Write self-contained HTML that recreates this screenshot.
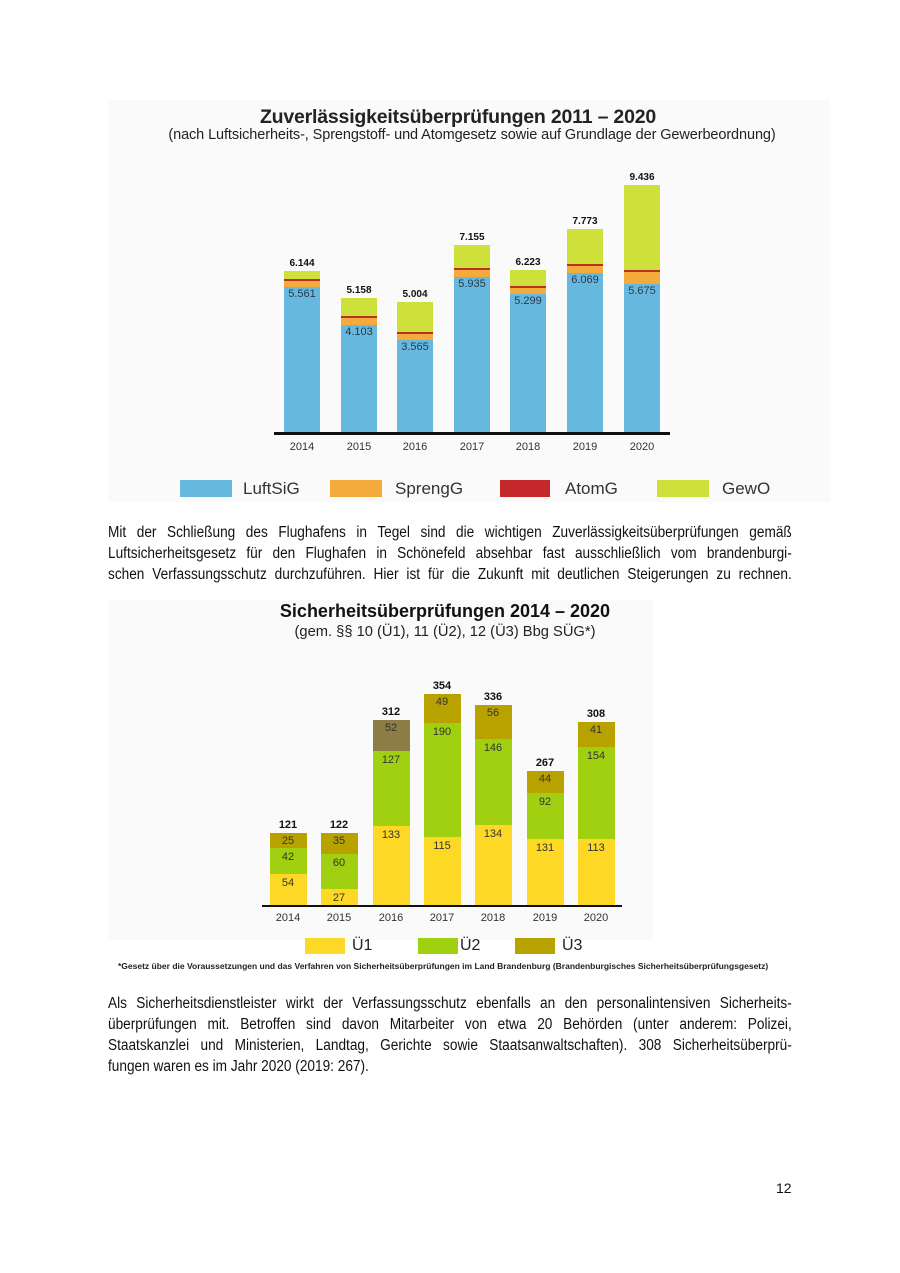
<!DOCTYPE html>
<html><head><meta charset="utf-8"><style>
body{margin:0;background:#fff;font-family:"Liberation Sans",sans-serif;}
.p{position:relative;width:900px;height:1273px;overflow:hidden}
.a{position:absolute}
.b{position:absolute}
.t{position:absolute;text-align:center;font-size:10px;font-weight:bold;color:#111;width:60px}
.v{position:absolute;text-align:center;font-size:11px;color:#2a3a4a;width:40px}
.w{position:absolute;text-align:center;font-size:11px;color:#333;width:40px}
.x{position:absolute;text-align:center;font-size:11px;color:#333;width:50px}
.ln{position:absolute;left:108px;width:777px;font-size:15.5px;line-height:21px;white-space:nowrap;text-align:justify;text-align-last:justify;color:#111;transform:scaleX(0.88);transform-origin:0 0}
.ln.l{text-align-last:left}
</style></head><body><div class="p">
<div class="a" style="left:108px;top:100px;width:722px;height:402px;background:#fafafa"></div>
<div class="a" style="left:98px;top:106px;width:720px;text-align:center;font-size:19.5px;font-weight:bold;color:#222;letter-spacing:-0.2px">Zuverlässigkeitsüberprüfungen 2011 – 2020</div>
<div class="a" style="left:102px;top:127px;width:740px;text-align:center;font-size:14.5px;color:#222;letter-spacing:-0.1px">(nach Luftsicherheits-, Sprengstoff- und Atomgesetz sowie auf Grundlage der Gewerbeordnung)</div>
<div id="top"></div>
<div class="a" style="left:274px;top:432px;width:396px;height:3px;background:#111"></div>

<div class="a" style="left:108px;top:600px;width:545px;height:340px;background:#fafafa"></div>
<div class="a" style="left:160px;top:601px;width:570px;text-align:center;font-size:18px;font-weight:bold;color:#111">Sicherheitsüberprüfungen 2014 – 2020</div>
<div class="a" style="left:160px;top:624px;width:570px;text-align:center;font-size:14.7px;color:#222">(gem. §§ 10 (Ü1), 11 (Ü2), 12 (Ü3) Bbg SÜG*)</div>
<div id="bot"></div>
<div class="a" style="left:262px;top:905px;width:360px;height:2px;background:#111"></div>

<div class="a" style="left:180px;top:480px;width:52px;height:17px;background:#66b8de"></div>
<div class="a" style="left:243px;top:479px;font-size:17px;color:#333">LuftSiG</div>
<div class="a" style="left:330px;top:480px;width:52px;height:17px;background:#f5aa3c"></div>
<div class="a" style="left:395px;top:479px;font-size:17px;color:#333">SprengG</div>
<div class="a" style="left:500px;top:480px;width:50px;height:17px;background:#c5282b"></div>
<div class="a" style="left:565px;top:479px;font-size:17px;color:#333">AtomG</div>
<div class="a" style="left:657px;top:480px;width:52px;height:17px;background:#cfe03a"></div>
<div class="a" style="left:722px;top:479px;font-size:17px;color:#333">GewO</div>

<div class="a" style="left:305px;top:938px;width:40px;height:16px;background:#fdd824"></div>
<div class="a" style="left:352px;top:937px;font-size:16px;color:#222">Ü1</div>
<div class="a" style="left:418px;top:938px;width:40px;height:16px;background:#a0d010"></div>
<div class="a" style="left:460px;top:937px;font-size:16px;color:#222">Ü2</div>
<div class="a" style="left:515px;top:938px;width:40px;height:16px;background:#b8a200"></div>
<div class="a" style="left:562px;top:937px;font-size:16px;color:#222">Ü3</div>
<div class="a" style="left:118px;top:961px;font-size:8.5px;font-weight:bold;color:#222;white-space:nowrap">*Gesetz über die Voraussetzungen und das Verfahren von Sicherheitsüberprüfungen im Land Brandenburg (Brandenburgisches Sicherheitsüberprüfungsgesetz)</div>

<div class="ln" style="top:522px">Mit der Schließung des Flughafens in Tegel sind die wichtigen Zuverlässigkeitsüberprüfungen gemäß</div>
<div class="ln" style="top:543px">Luftsicherheitsgesetz für den Flughafen in Schönefeld absehbar fast ausschließlich vom brandenburgi-</div>
<div class="ln" style="top:564px">schen Verfassungsschutz durchzuführen. Hier ist für die Zukunft mit deutlichen Steigerungen zu rechnen.</div>
<div class="ln" style="top:993px">Als Sicherheitsdienstleister wirkt der Verfassungsschutz ebenfalls an den personalintensiven Sicherheits-</div>
<div class="ln" style="top:1014px">überprüfungen mit. Betroffen sind davon Mitarbeiter von etwa 20 Behörden (unter anderem: Polizei,</div>
<div class="ln" style="top:1035px">Staatskanzlei und Ministerien, Landtag, Gerichte sowie Staatsanwaltschaften). 308 Sicherheitsüberprü-</div>
<div class="ln l" style="top:1056px">fungen waren es im Jahr 2020 (2019: 267).</div>
<div class="a" style="left:776px;top:1180px;font-size:14px;color:#111">12</div>
</div>
<script>
var T=[[284,271,279,287,"6.144","5.561",2014],[341,298,316,325,"5.158","4.103",2015],[397,302,332,340,"5.004","3.565",2016],[454,245,268,277,"7.155","5.935",2017],[510,270,286,294,"6.223","5.299",2018],[567,229,264,273,"7.773","6.069",2019],[624,185,270,284,"9.436","5.675",2020]];
var h="";
T.forEach(function(d){var x=d[0],w=36;
h+='<div class="b" style="left:'+x+'px;top:'+d[1]+'px;width:'+w+'px;height:'+(d[2]-d[1])+'px;background:#cfe03a"></div>';
h+='<div class="b" style="left:'+x+'px;top:'+d[2]+'px;width:'+w+'px;height:'+(d[3]-d[2])+'px;background:#f5aa3c"></div>';
h+='<div class="b" style="left:'+x+'px;top:'+d[2]+'px;width:'+w+'px;height:2px;background:#b83020"></div>';
h+='<div class="b" style="left:'+x+'px;top:'+d[3]+'px;width:'+w+'px;height:'+(433-d[3])+'px;background:#66b8de"></div>';
h+='<div class="t" style="left:'+(x-12)+'px;top:'+(d[1]-13)+'px">'+d[4]+'</div>';
h+='<div class="v" style="left:'+(x-2)+'px;top:'+(d[3]+1)+'px">'+d[5]+'</div>';
h+='<div class="x" style="left:'+(x-7)+'px;top:441px">'+d[6]+'</div>';});
document.getElementById('top').outerHTML=h;
var B=[[270,833,848,874,121,25,42,54,2014,'#b8a200'],[321,833,854,889,122,35,60,27,2015,'#b8a200'],[373,720,751,826,312,52,127,133,2016,'#8c7c45'],[424,694,723,837,354,49,190,115,2017,'#b8a200'],[475,705,739,825,336,56,146,134,2018,'#b8a200'],[527,771,793,839,267,44,92,131,2019,'#b8a200'],[578,722,747,839,308,41,154,113,2020,'#b8a200']];
h="";
B.forEach(function(d){var x=d[0],w=37;
h+='<div class="b" style="left:'+x+'px;top:'+d[1]+'px;width:'+w+'px;height:'+(d[2]-d[1])+'px;background:'+d[9]+'"></div>';
h+='<div class="b" style="left:'+x+'px;top:'+d[2]+'px;width:'+w+'px;height:'+(d[3]-d[2])+'px;background:#a0d010"></div>';
h+='<div class="b" style="left:'+x+'px;top:'+d[3]+'px;width:'+w+'px;height:'+(906-d[3])+'px;background:#fdd824"></div>';
h+='<div class="t" style="left:'+(x-12)+'px;top:'+(d[1]-14)+'px;font-size:11px">'+d[4]+'</div>';
h+='<div class="w" style="left:'+(x-2)+'px;top:'+(d[1]+2)+'px">'+d[5]+'</div>';
h+='<div class="w" style="left:'+(x-2)+'px;top:'+(d[2]+3)+'px">'+d[6]+'</div>';
h+='<div class="w" style="left:'+(x-2)+'px;top:'+(d[3]+3)+'px">'+d[7]+'</div>';
h+='<div class="x" style="left:'+(x-7)+'px;top:912px">'+d[8]+'</div>';});
document.getElementById('bot').outerHTML=h;
</script>
</body></html>
